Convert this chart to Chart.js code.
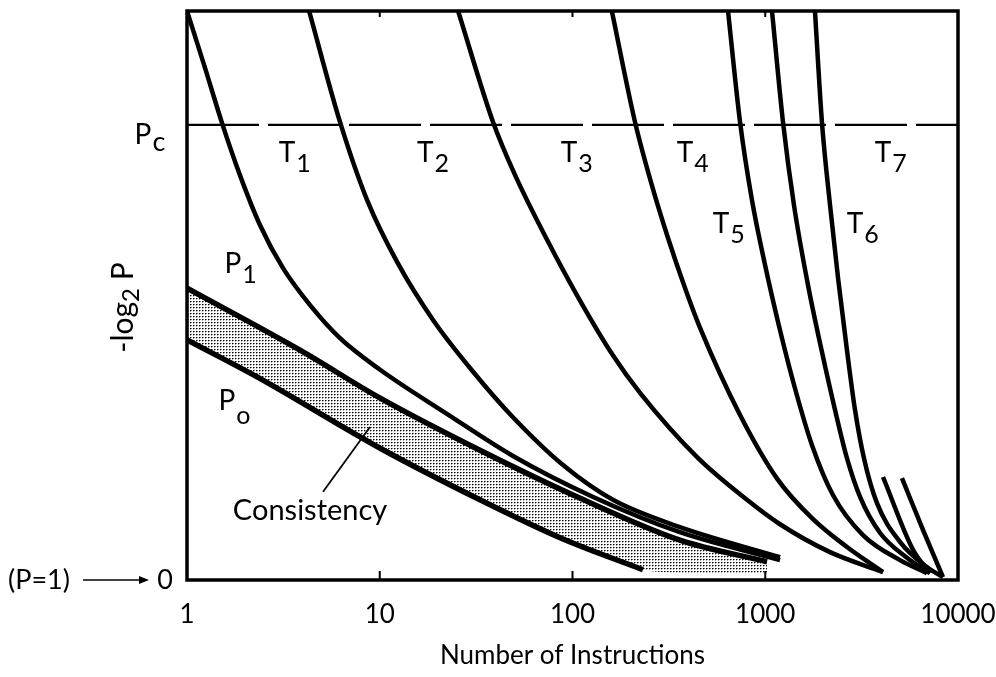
<!DOCTYPE html>
<html>
<head>
<meta charset="utf-8">
<script src="https://cdn.jsdelivr.net/npm/chart.js@4.4.0/dist/chart.umd.min.js"></script>
<style>
  html, body { margin: 0; padding: 0; background: #fff; }
  #wrap { width: 996px; height: 677px; position: relative; }
</style>
</head>
<body>
<div id="wrap"><canvas id="chart"></canvas></div>
<script>
const FONT = 'Lato, "DejaVu Sans", sans-serif';

// axis settings
const xTicks = [1, 10, 100, 1000, 10000];
const yMin = 0;
const yMax = 10;
const pcLevel = 8;

// curves, [instructions, -log2 P]
const p1Curve = [[1, 10], [1.24, 9.00], [1.52, 8.03], [1.88, 7.12], [2.39, 6.24], [3.15, 5.48], [4.35, 4.83],
  [6.22, 4.25], [10.0, 3.70], [22.3, 2.92], [49.1, 2.18], [128, 1.46], [361, 0.84], [1193, 0.35]];
const t1Curve = [[4.30, 10], [6.22, 8.05], [8.59, 6.68], [12.3, 5.59], [18.9, 4.57], [30.5, 3.66], [49.1, 2.86],
  [89.3, 2.02], [162, 1.41], [361, 0.93], [1193, 0.40]];
const t2Curve = [[25.5, 10], [38.7, 8.05], [50.3, 7.12], [73.8, 5.98], [109, 4.92], [162, 3.95], [224, 3.29],
  [443, 2.16], [804, 1.41], [1193, 0.98], [2168, 0.49], [4083, 0.14]];
const t3Curve = [[160, 10], [211, 8.05], [258, 6.94], [313, 6.01], [379, 5.18], [459, 4.43], [740, 2.90],
  [1164, 1.76], [1770, 1.07], [2654, 0.58], [4083, 0.14]];
const t4Curve = [[641, 10], [740, 8.05], [853, 6.68], [997, 5.54], [1193, 4.39], [1445, 3.30], [1748, 2.37],
  [2248, 1.49], [3214, 0.79], [5000, 0.35], [6902, 0.12]];
const t5Curve = [[1084, 10], [1236, 8.05], [1409, 6.59], [1667, 5.18], [1968, 4.01], [2301, 2.99], [2654, 2.14],
  [3103, 1.46], [3936, 0.83], [5433, 0.39], [7158, 0.12]];
const t6Curve = [[1811, 10], [1968, 8.05], [2168, 6.59], [2385, 5.31], [2654, 4.04], [2922, 2.99], [3252, 2.14],
  [3800, 1.35], [5000, 0.67], [6745, 0.25], [8356, 0.05]];
const stub1 = [[4083, 1.81], [5844, 0.53], [7158, 0.12]];
const stub2 = [[5120, 1.79], [6580, 0.88], [8356, 0.05]];

// consistency band
const bandTop = [[1, 5.13], [3.86, 4.04], [10.0, 3.20], [33.1, 2.28], [109, 1.44], [361, 0.70], [1021, 0.32]];
const p0Curve = [[1, 4.22], [2.31, 3.57], [10.0, 2.32], [33.1, 1.41], [89.3, 0.72], [232, 0.18]];
const bandBottom = [[1, 4.22], [2.31, 3.57], [10.0, 2.32], [33.1, 1.41], [89.3, 0.72], [232, 0.18], [460, 0.12], [1021, 0.12]];
const pointer = [[8.90, 2.69], [5.08, 1.55]];
const pcLine = [[1, pcLevel], [10000, pcLevel]];

// text labels: x centre, y baseline (data units)
const regionLabels = [
  { main: 'T', sub: '1', x: 3.30, y: 7.35 },
  { main: 'T', sub: '2', x: 17.2, y: 7.35 },
  { main: 'T', sub: '3', x: 95.9, y: 7.35 },
  { main: 'T', sub: '4', x: 383, y: 7.35 },
  { main: 'T', sub: '5', x: 590, y: 6.10 },
  { main: 'T', sub: '6', x: 2922, y: 6.10 },
  { main: 'T', sub: '7', x: 4083, y: 7.35 },
  { main: 'P', sub: '1', x: 1.73, y: 5.40 },
  { main: 'P', sub: 'o', x: 1.61, y: 2.99 }
];
const noteLabel = { text: 'Consistency', x: 4.35, y: 1.05 };

const pts = arr => arr.map(([x, y]) => ({ x, y }));

const canvas = document.getElementById('chart');
const ctx = canvas.getContext('2d');

// stipple for the consistency band
const tile = document.createElement('canvas');
tile.width = 3;
tile.height = 3;
const tctx = tile.getContext('2d');
tctx.fillStyle = '#000';
tctx.fillRect(1, 1, 1, 1);
tctx.fillStyle = '#777';
tctx.fillRect(2, 1, 1, 1);
tctx.fillStyle = '#aaa';
tctx.fillRect(1, 2, 1, 1);
const stipple = ctx.createPattern(tile, 'repeat');

function curve(data, width) {
  return {
    data: pts(data),
    showLine: true,
    borderColor: '#000',
    borderWidth: width || 4.5,
    pointRadius: 0,
    fill: false,
    cubicInterpolationMode: 'monotone'
  };
}

const datasets = [
  curve(p1Curve),
  curve(t1Curve),
  curve(t2Curve),
  curve(t3Curve),
  curve(t4Curve),
  curve(t5Curve),
  curve(t6Curve),
  curve(stub1),
  curve(stub2),
  curve(p0Curve, 5.5),
  Object.assign(curve(pointer, 1.8), { cubicInterpolationMode: 'default', tension: 0 }),
  Object.assign(curve(pcLine, 2.2), { borderDash: [72, 9], cubicInterpolationMode: 'default', tension: 0 }),
  Object.assign(curve(bandTop, 5.5), { fill: { target: 13 }, backgroundColor: stipple, order: 10 }),
  Object.assign(curve(bandBottom, 0), { borderColor: 'rgba(0,0,0,0)', order: 11 })
];

function subText(c, main, sub, cx, baseY, size, subSize, drop) {
  c.font = size + 'px ' + FONT;
  const w = c.measureText(main).width;
  c.textAlign = 'left';
  c.textBaseline = 'alphabetic';
  c.fillText(main, cx - w / 2, baseY);
  c.font = subSize + 'px ' + FONT;
  c.fillText(sub, cx + w / 2 + 1, baseY + drop);
}

const decorations = {
  id: 'decorations',
  afterDatasetsDraw(chart) {
    const c = chart.ctx;
    const a = chart.chartArea;
    const xs = chart.scales.x;
    c.save();
    c.strokeStyle = '#000';
    c.lineWidth = 3.5;
    c.strokeRect(a.left, a.top, a.right - a.left, a.bottom - a.top);
    c.lineWidth = 2;
    xTicks.slice(1, -1).forEach(v => {
      const px = xs.getPixelForValue(v);
      c.beginPath();
      c.moveTo(px, a.bottom);
      c.lineTo(px, a.bottom - 9);
      c.moveTo(px, a.top);
      c.lineTo(px, a.top + 6);
      c.stroke();
    });
    c.restore();
  },
  afterDraw(chart) {
    const c = chart.ctx;
    const a = chart.chartArea;
    const xs = chart.scales.x;
    const ys = chart.scales.y;
    c.save();
    c.fillStyle = '#000';

    regionLabels.forEach(l => {
      const drop = l.sub === 'o' ? 14 : 10;
      subText(c, l.main, l.sub, xs.getPixelForValue(l.x), ys.getPixelForValue(l.y), 28, 25, drop);
    });

    c.font = '29px ' + FONT;
    c.textAlign = 'center';
    c.textBaseline = 'alphabetic';
    c.fillText(noteLabel.text, xs.getPixelForValue(noteLabel.x), ys.getPixelForValue(noteLabel.y));

    // y axis labels
    const yPc = ys.getPixelForValue(pcLevel);
    subText(c, 'P', 'c', a.left - 44, yPc + 19, 28, 27, 7);

    const y0 = ys.getPixelForValue(yMin);
    c.font = '27px ' + FONT;
    c.textAlign = 'center';
    c.textBaseline = 'middle';
    c.fillText('0', a.left - 22, y0);
    c.textAlign = 'left';
    c.fillText('(P=1)', 8, y0);
    c.lineWidth = 1.6;
    c.beginPath();
    c.moveTo(a.left - 104, y0);
    c.lineTo(a.left - 44, y0);
    c.stroke();
    c.beginPath();
    c.moveTo(a.left - 38, y0);
    c.lineTo(a.left - 48, y0 - 4);
    c.lineTo(a.left - 48, y0 + 4);
    c.closePath();
    c.fill();

    // rotated title: -log2 P
    c.translate(a.left - 54, (ys.getPixelForValue(yMax) + y0) / 2 + 12);
    c.rotate(-Math.PI / 2);
    c.textAlign = 'left';
    c.textBaseline = 'alphabetic';
    c.font = '30px ' + FONT;
    const w1 = c.measureText('-log').width;
    const w3 = c.measureText(' P').width;
    c.font = '24px ' + FONT;
    const w2 = c.measureText('2').width;
    const x0 = -(w1 + w2 + w3) / 2;
    c.font = '30px ' + FONT;
    c.fillText('-log', x0, 0);
    c.font = '24px ' + FONT;
    c.fillText('2', x0 + w1, 6);
    c.font = '30px ' + FONT;
    c.fillText(' P', x0 + w1 + w2, 0);
    c.restore();
  }
};

new Chart(ctx, {
  type: 'scatter',
  data: { datasets },
  options: {
    responsive: true,
    maintainAspectRatio: false,
    animation: false,
    layout: { padding: { top: 11, right: 38, bottom: 0, left: 0 } },
    plugins: {
      legend: { display: false },
      tooltip: { enabled: false }
    },
    scales: {
      x: {
        type: 'logarithmic',
        min: 1,
        max: 10000,
        grid: { display: false },
        border: { display: false },
        afterBuildTicks: s => { s.ticks = xTicks.map(v => ({ value: v })); },
        afterFit: s => { s.height = 97; s.paddingLeft = 0; s.paddingRight = 0; },
        ticks: {
          color: '#000',
          font: { family: FONT, size: 26 },
          padding: 11,
          maxRotation: 0,
          autoSkip: false,
          callback: v => String(v)
        },
        title: {
          display: true,
          text: 'Number of Instructions',
          color: '#000',
          font: { family: FONT, size: 26 },
          padding: { top: 0, bottom: 6 }
        }
      },
      y: {
        type: 'linear',
        min: yMin,
        max: yMax,
        grid: { display: false },
        border: { display: false },
        ticks: { display: false },
        afterFit: s => { s.width = 187; }
      }
    }
  },
  plugins: [decorations]
});
</script>
</body>
</html>
